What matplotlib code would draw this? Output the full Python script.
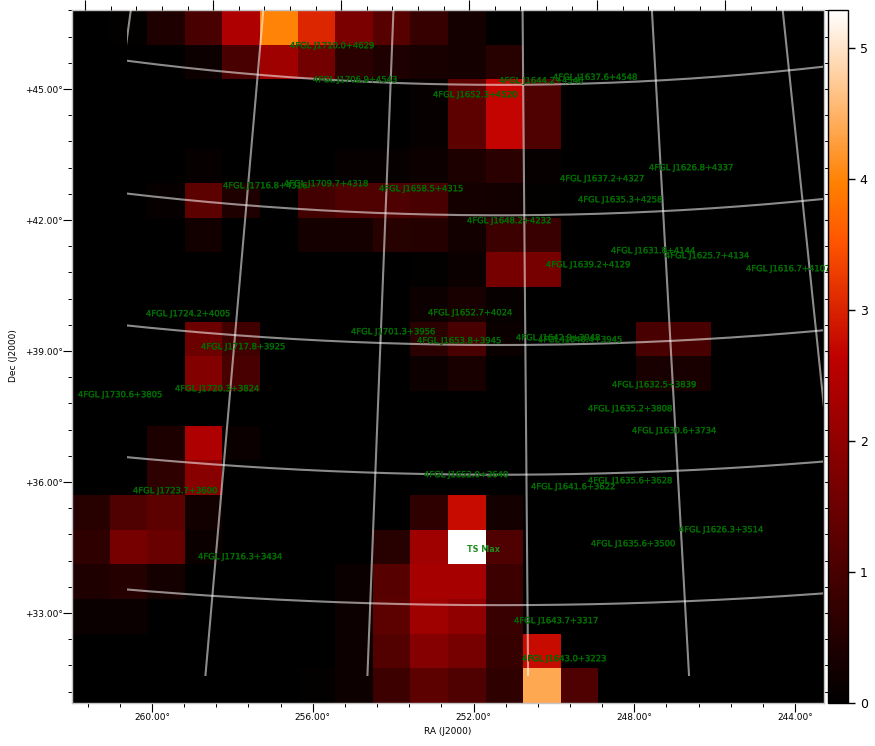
import numpy as np
import matplotlib
matplotlib.use("Agg")
import matplotlib.pyplot as plt
import matplotlib.patheffects as pe
from matplotlib.patches import Rectangle
from matplotlib.ticker import MultipleLocator, FuncFormatter

# TS map values, 20 rows (top to bottom) of 20 columns (left to right); sparse cells
ts_cells = {
    0: {1: .05, 2: .45, 3: 1.0, 4: 2.4, 5: 4.0, 6: 3.05, 7: 1.7, 8: 1.2, 9: .75, 10: .3},
    1: {3: .2, 4: 1.0, 5: 2.2, 6: 1.6, 7: .6, 8: .45, 9: .35, 10: .3, 11: .55},
    2: {9: .1, 10: 1.3, 11: 2.7, 12: 1.1},
    3: {9: .1, 10: 1.3, 11: 2.7, 12: 1.1},
    4: {3: .1, 7: .1, 8: .1, 9: .2, 10: .4, 11: .6, 12: .1},
    5: {2: .1, 3: 1.3, 4: .45, 6: .95, 7: 1.1, 8: 1.1, 9: 1.0, 10: .3, 11: .25, 12: .05},
    6: {3: .25, 6: .3, 7: .3, 8: .55, 9: .5, 10: .25, 11: .85, 12: .8},
    7: {9: .05, 10: .15, 11: 1.65, 12: 1.65},
    8: {9: .2, 10: .35, 11: .1},
    9: {3: 1.5, 4: .9, 9: .6, 10: 1.0, 11: .15, 15: 1.0, 16: 1.0},
    10: {3: 1.8, 4: 1.0, 9: .2, 10: .35, 15: .35, 16: .35},
    11: {},
    12: {2: .4, 3: 2.4, 4: .15},
    13: {2: .65, 3: 1.9},
    14: {0: .55, 1: 1.1, 2: 1.3, 3: .25, 9: .65, 10: 2.75, 11: .3},
    15: {0: .65, 1: 1.65, 2: 1.45, 3: .15, 8: .55, 9: 2.2, 10: 5.29, 11: 1.1},
    16: {0: .45, 1: .5, 2: .3, 7: .15, 8: 1.2, 9: 2.3, 10: 2.3, 11: .85},
    17: {0: .15, 1: .15, 7: .2, 8: 1.3, 9: 2.2, 10: 2.0, 11: .8},
    18: {7: .2, 8: 1.15, 9: 1.85, 10: 1.65, 11: .75, 12: 2.75},
    19: {6: .05, 7: .2, 8: .85, 9: 1.3, 10: 1.1, 11: .65, 12: 4.4, 13: 1.1},
}

source_names = [
    "J1710.0+4629", "J1706.9+4543", "J1652.3+4520", "J1644.2+4546", "J1637.6+4548",
    "J1626.8+4337", "J1637.2+4327", "J1635.3+4258", "J1716.8+4316", "J1709.7+4318",
    "J1658.5+4315", "J1648.2+4232", "J1631.8+4144", "J1625.7+4134", "J1639.2+4129",
    "J1616.7+4107", "J1724.2+4005", "J1652.7+4024", "J1701.3+3956", "J1653.8+3945",
    "J1642.9+3948", "J1640.4+3945", "J1717.8+3925", "J1720.3+3824", "J1730.6+3805",
    "J1632.5+3839", "J1635.2+3808", "J1630.6+3734", "J1652.0+3640", "J1635.6+3628",
    "J1641.6+3622", "J1723.7+3600", "J1626.3+3514", "J1635.6+3500", "J1716.3+3434",
    "J1643.7+3317", "J1643.0+3223",
]
source_x = [290, 313, 433, 499, 553, 649, 560, 578, 223, 284, 379, 467, 611, 665, 546,
            746, 146, 428, 351, 417, 516, 538, 201, 175, 78, 612, 588, 632, 424, 588,
            531, 133, 679, 591, 198, 514, 522]
source_y = [45.7, 79.7, 94.7, 80.7, 77.3, 167.7, 178.7, 199.7, 185.7, 183.7, 188.7,
            220.7, 250.7, 255.7, 264.7, 268.7, 313.7, 312.7, 331.7, 340.7, 337.7,
            339.7, 346.7, 388.7, 394.7, 384.7, 408.7, 430.7, 474.7, 480.7, 486.7,
            490.7, 529.7, 543.7, 556.7, 620.7, 658.7]
ts_max_label = (467, 549.7)

grid_ra = [264, 260, 256, 252, 248, 244]
grid_dec = [45, 42, 39, 36, 33]
ra_limits = (261.99, 243.28)
top_ra_limits = (264.41, 240.91)
dec_limits = (30.94, 46.81)
cbar_ticks = [0, 1, 2, 3, 4, 5]
vmax = 5.29

W, H = 875, 746
PX = 72 / 100  # points per pixel at dpi 100
rect = [72 / W, (H - 703) / H, 752 / W, 693 / H]
fig = plt.figure(figsize=(W / 100, H / 100), dpi=100)

ts = np.zeros((20, 20))
for r, cells in ts_cells.items():
    for c, v in cells.items():
        ts[r, c] = v

ax = fig.add_axes(rect)
im = ax.imshow(ts, cmap="gist_heat", vmin=0, vmax=vmax, aspect="auto",
               interpolation="nearest",
               extent=[ra_limits[0], ra_limits[1], dec_limits[0], dec_limits[1]])
ax.set_xlim(*ra_limits)
ax.set_ylim(*dec_limits)
ax.xaxis.set_major_locator(MultipleLocator(4))
ax.xaxis.set_minor_locator(MultipleLocator(0.8))
ax.yaxis.set_major_locator(MultipleLocator(3))
ax.yaxis.set_minor_locator(MultipleLocator(0.6))
ax.xaxis.set_major_formatter(FuncFormatter(lambda v, p: f"{v:.2f}°"))
ax.yaxis.set_major_formatter(FuncFormatter(lambda v, p: f"+{v:.2f}°"))
ax.tick_params(which="major", length=9 * PX, width=0.8, labelsize=6.5, pad=1)
ax.tick_params(which="minor", length=4 * PX, width=0.7)
ax.tick_params(axis="y", which="both", right=True)
ax.tick_params(axis="y", which="major", pad=0.3)
ax.set_xlabel("RA (J2000)", fontsize=6.5)
ax.set_ylabel("Dec (J2000)", fontsize=6.5)
ax.xaxis.set_label_coords((448 - 72) / 752, -(731 - 703) / 693, transform=ax.transAxes)
ax.yaxis.set_label_coords((14 - 72) / 752, (703 - 356) / 693, transform=ax.transAxes)
ax.xaxis.label.set_va("center")
ax.yaxis.label.set_va("center")
for s in ax.spines.values():
    s.set_color("#c4c4c4")
    s.set_linewidth(1)

# right-side ticks are all short
for t in ax.yaxis.get_major_ticks():
    t.tick2line.set_markersize(4 * PX)

top = ax.twiny()
top.set_xlim(*top_ra_limits)
top.xaxis.set_major_locator(MultipleLocator(4))
top.xaxis.set_minor_locator(MultipleLocator(0.8))
top.xaxis.set_major_formatter(FuncFormatter(lambda v, p: ""))
top.tick_params(which="major", length=10 * PX, width=0.8)
top.tick_params(which="minor", length=4 * PX, width=0.7)
for s in top.spines.values():
    s.set_visible(False)

# overlay in image pixel coordinates: sky graticule and catalogue labels
ov = fig.add_axes(rect, frameon=False, zorder=5)
ov.set_xlim(72, 824)
ov.set_ylim(703, 10)
ov.axis("off")

RA0, DEC0, XC, YC, SX, SY = 252.7, 39.0, 500.0, 345.0, 46.6, 43.2


def tan_project(ra, dec):
    dr = np.radians(np.asarray(ra) - RA0)
    d = np.radians(np.asarray(dec))
    d0 = np.radians(DEC0)
    cosc = np.sin(d0) * np.sin(d) + np.cos(d0) * np.cos(d) * np.cos(dr)
    X = np.cos(d) * np.sin(dr) / cosc
    Y = (np.cos(d0) * np.sin(d) - np.sin(d0) * np.cos(d) * np.cos(dr)) / cosc
    return XC - SX * np.degrees(X), YC - SY * np.degrees(Y)


clip = Rectangle((127, 10), 696, 666, transform=ov.transData)
line_style = dict(color="white", alpha=0.55, lw=1.5, solid_capstyle="butt")
for ra_val in grid_ra:
    decs = np.linspace(29, 49, 200)
    x, y = tan_project(np.full_like(decs, ra_val), decs)
    ln, = ov.plot(x, y, **line_style)
    ln.set_clip_path(clip)
for dec_val in grid_dec:
    ras = np.linspace(238, 268, 300)
    x, y = tan_project(ras, np.full_like(ras, dec_val))
    ln, = ov.plot(x, y, **line_style)
    ln.set_clip_path(clip)

stroke = [pe.withStroke(linewidth=0.25, foreground="#006600")]
for name, lx, ly in zip(source_names, source_x, source_y):
    ov.text(lx, ly, "4FGL " + name, color="#006c00", fontsize=6.05,
            ha="left", va="center", clip_on=False, path_effects=stroke)
ov.text(ts_max_label[0], ts_max_label[1], "TS Max", color="#1e8c1e", fontsize=5.8,
        fontweight="bold", ha="left", va="center", clip_on=False)

cax = fig.add_axes([828 / W, (H - 703) / H, 20 / W, 693 / H], zorder=10)
cb = fig.colorbar(im, cax=cax)
cb.set_ticks(cbar_ticks)
cb.ax.tick_params(labelsize=9, length=5 * PX * 1.4, width=1, pad=3.5)
cb.ax.minorticks_off()
cb.outline.set_linewidth(1)

fig.savefig("out.png", dpi=100)
